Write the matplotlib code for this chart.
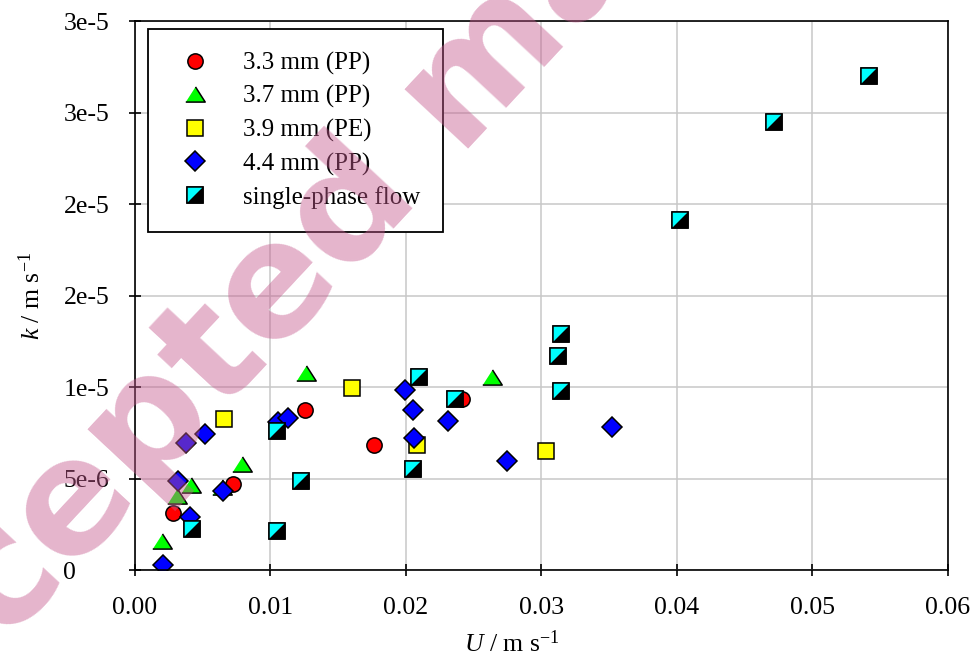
import matplotlib
matplotlib.use('Agg')
import matplotlib.pyplot as plt
from matplotlib.ticker import FixedLocator, FixedFormatter
from matplotlib.legend_handler import HandlerTuple

# ---------------- data ----------------
u_33 = [0.00283, 0.00721, 0.01255, 0.01764, 0.02411]
k_33 = [3.11e-6, 4.71e-6, 8.75e-6, 6.86e-6, 9.34e-6]

u_37 = [0.00197, 0.00308, 0.00411, 0.0064, 0.00787, 0.0126, 0.02635]
k_37 = [1.61e-6, 4.05e-6, 4.64e-6, 4.55e-6, 5.79e-6, 10.79e-6, 10.54e-6]

u_39 = [0.00659, 0.0160, 0.02083, 0.03033]
k_39 = [8.26e-6, 9.97e-6, 6.84e-6, 6.51e-6]

u_44 = [0.00209, 0.00406, 0.0032, 0.00376, 0.00517, 0.00647, 0.01058, 0.01131,
        0.01993, 0.0205, 0.02059, 0.02308, 0.02748, 0.03518]
k_44 = [0.28e-6, 2.92e-6, 4.87e-6, 6.97e-6, 7.44e-6, 4.34e-6, 8.11e-6, 8.30e-6,
        9.85e-6, 8.75e-6, 7.21e-6, 8.15e-6, 5.97e-6, 7.81e-6]

u_sp = [0.00423, 0.0105, 0.01046, 0.01225, 0.02098, 0.02362, 0.0205,
        0.03144, 0.03124, 0.03144, 0.0402, 0.04718, 0.05419]
k_sp = [2.235e-6, 2.16e-6, 7.6e-6, 4.89e-6, 10.57e-6, 9.34e-6, 5.53e-6,
        12.89e-6, 11.70e-6, 9.81e-6, 19.15e-6, 24.49e-6, 26.97e-6]

labels = ['3.3 mm (PP)', '3.7 mm (PP)', '3.9 mm (PE)', '4.4 mm (PP)', 'single-phase flow']

x_ticks = [0.0, 0.01, 0.02, 0.03, 0.04, 0.05, 0.06]
x_ticklabels = ['0.00', '0.01', '0.02', '0.03', '0.04', '0.05', '0.06']
y_ticks = [0.0, 5e-6, 1e-5, 1.5e-5, 2e-5, 2.5e-5, 3e-5]
y_ticklabels = ['0', '5e-6', '1e-5', '2e-5', '2e-5', '3e-5', '3e-5']

# ---------------- style ----------------
plt.rcParams['font.family'] = ['Liberation Serif', 'DejaVu Serif']
plt.rcParams['mathtext.fontset'] = 'custom'
plt.rcParams['mathtext.rm'] = 'Liberation Serif'
plt.rcParams['mathtext.it'] = 'Liberation Serif:italic'

fig = plt.figure(figsize=(9.76, 6.59), dpi=100)
ax = fig.add_axes([0.1383, 0.1347, 0.8330, 0.8334])

mew = 1.1
tri = [(-1, -0.78), (1, -0.78), (0, 0.78)]
tri_ul = [(-1, -1), (-1, 1), (1, 1)]

h1, = ax.plot(u_33, k_33, ls='none', marker='o', ms=11, mfc='#ff0000', mec='black', mew=mew)
h2, = ax.plot(u_37, k_37, ls='none', marker=tri, ms=14, mfc='#00ff00', mec='black', mew=mew)
h3, = ax.plot(u_39, k_39, ls='none', marker='s', ms=11.5, mfc='#ffff00', mec='black', mew=mew)
h4, = ax.plot(u_44, k_44, ls='none', marker='D', ms=10.5, mfc='#0000ff', mec='black', mew=mew)
s1, = ax.plot(u_sp, k_sp, ls='none', marker='s', ms=11.5, mfc='black', mec='black', mew=mew)
s2, = ax.plot(u_sp, k_sp, ls='none', marker=tri_ul, ms=11.5, mfc='#00ffff', mec='none', mew=0)
s3, = ax.plot(u_sp, k_sp, ls='none', marker='s', ms=11.5, mfc='none', mec='black', mew=mew)

ax.set_xlim(0, 0.06)
ax.set_ylim(0, 3e-5)
ax.xaxis.set_major_locator(FixedLocator(x_ticks))
ax.xaxis.set_major_formatter(FixedFormatter(x_ticklabels))
ax.yaxis.set_major_locator(FixedLocator(y_ticks))
ax.yaxis.set_major_formatter(FixedFormatter(y_ticklabels))

ax.grid(True, color='#c8c8c8', lw=1.1)
ax.set_axisbelow(True)
for sp in ax.spines.values():
    sp.set_linewidth(1.2)
    sp.set_color('black')

ax.tick_params(axis='both', direction='inout', length=9, width=1.2, labelsize=18.5, colors='black')
ax.tick_params(axis='x', pad=15)
ax.tick_params(axis='y', pad=47)
for lab in ax.get_yticklabels():
    lab.set_horizontalalignment('left')

ax.set_xlabel(r'$\mathit{U}$ / m s$^{-1}$', fontsize=18.5)
ax.xaxis.set_label_coords(0.464, -0.109)
ax.set_ylabel(r'$\mathit{k}$ / m s$^{-1}$', fontsize=18.5)
ax.yaxis.set_label_coords(-0.111, 0.5)

leg = ax.legend([h1, h2, h3, h4, (s1, s2, s3)], labels,
                handler_map={tuple: HandlerTuple(ndivide=1)},
                loc='upper left', bbox_to_anchor=(0.016, 0.985), borderaxespad=0,
                fontsize=18, numpoints=1, handlelength=2.0, handletextpad=0.9,
                borderpad=0.9, labelspacing=0.42, fancybox=False, framealpha=1,
                edgecolor='black')
leg.get_frame().set_linewidth(1.3)

# watermark
fig.text(0.482, 0.875, 'Accepted manuscript', rotation=47, rotation_mode='anchor',
         ha='center', va='center', fontsize=114, fontweight='bold',
         family='DejaVu Sans', color='#c55a8e', alpha=0.45, zorder=100)

fig.savefig('out.png', dpi=100)
